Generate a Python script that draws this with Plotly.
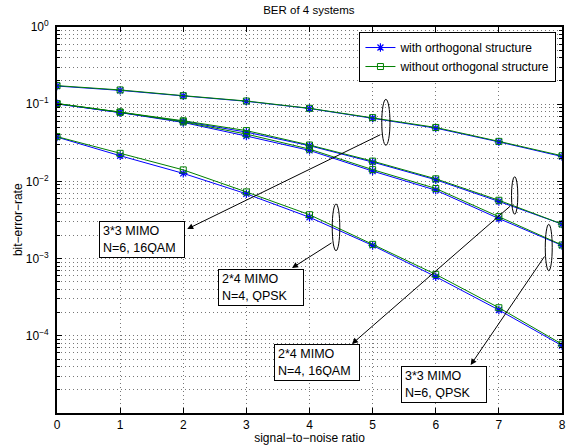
import plotly.graph_objects as go

snr = [0, 1, 2, 3, 4, 5, 6, 7, 8]

# 3*3 MIMO N=6, 16QAM
a_with = [0.172, 0.151, 0.128, 0.109, 0.088, 0.066, 0.049, 0.0325, 0.021]
a_without = [0.174, 0.153, 0.129, 0.110, 0.0885, 0.067, 0.050, 0.033, 0.0215]
# 2*4 MIMO N=4, 16QAM
b_with = [0.101, 0.078, 0.060, 0.0435, 0.0290, 0.0178, 0.0105, 0.0055, 0.0028]
b_without = [0.102, 0.079, 0.061, 0.0455, 0.0296, 0.0183, 0.0108, 0.0057, 0.0028]
# 3*3 MIMO N=6, QPSK
c_with = [0.101, 0.078, 0.058, 0.0387, 0.0252, 0.0136, 0.0077, 0.0033, 0.00148]
c_without = [0.102, 0.079, 0.059, 0.041, 0.0262, 0.0142, 0.0081, 0.0035, 0.0015]
# 2*4 MIMO N=4, QPSK
d_with = [0.0375, 0.0215, 0.0127, 0.0069, 0.00343, 0.00148, 0.000583, 0.000216, 7.45e-5]
d_without = [0.038, 0.0231, 0.0141, 0.0073, 0.0037, 0.00153, 0.000625, 0.000231, 7.8e-5]

x_ticks = [0, 1, 2, 3, 4, 5, 6, 7, 8]
y_tick_vals = [1e-5, 1e-4, 1e-3, 1e-2, 1e-1, 1]
y_tick_text = ["", "10<sup>\u22124</sup>", "10<sup>\u22123</sup>", "10<sup>\u22122</sup>",
               "10<sup>\u22121</sup>", "10<sup>0</sup>"]
y_minor_vals = [m * 10.0 ** k for k in range(-5, 0) for m in range(2, 10)]

series_with = [a_with, b_with, c_with, d_with]
series_without = [a_without, b_without, c_without, d_without]

BLUE = "#0000FF"
GREEN = "#008000"
FONT = "Liberation Sans, Arial, sans-serif"

fig = go.Figure()
for i, ys in enumerate(series_with):
    fig.add_trace(go.Scatter(
        x=snr, y=ys, mode="lines+markers", name="with orthogonal structure",
        showlegend=(i == 0), legendgroup="with",
        line=dict(color=BLUE, width=1),
        marker=dict(symbol="asterisk-open", size=7, color=BLUE, line=dict(color=BLUE, width=1.2)),
    ))
for i, ys in enumerate(series_without):
    fig.add_trace(go.Scatter(
        x=snr, y=ys, mode="lines+markers", name="without orthogonal structure",
        showlegend=(i == 0), legendgroup="without",
        line=dict(color=GREEN, width=1),
        marker=dict(symbol="square-open", size=6, color=GREEN, line=dict(color=GREEN, width=1)),
    ))

# ellipses (x center, half width, log y top, log y bottom)
ellipses = [
    (5.21, 0.065, -0.937, -1.532),
    (7.25, 0.05, -1.939, -2.426),
    (7.79, 0.055, -2.556, -3.157),
    (4.42, 0.06, -2.293, -2.898),
]
shapes = []
for cx, hw, yt, yb in ellipses:
    shapes.append(dict(type="circle", xref="x", yref="y",
                       x0=cx - hw, x1=cx + hw, y0=10 ** yb, y1=10 ** yt,
                       line=dict(color="black", width=1)))

annotations = []
# arrows: tail (ellipse) -> head (box)
arrows = [
    ((5.146, -1.386), (2.063, -2.617)),
    ((4.372, -2.785), (3.723, -3.122)),
    ((7.2, -2.306), (4.672, -4.106)),
    ((7.739, -2.953), (6.553, -4.378)),
]
for (tx, ty), (hx, hy) in arrows:
    annotations.append(dict(x=hx, y=hy, xref="x", yref="y", ax=tx, ay=ty,
                            axref="x", ayref="y", text="", showarrow=True,
                            arrowhead=2, arrowsize=1.2, arrowwidth=1, arrowcolor="black"))

boxes = [
    (1.352, -2.753, "3*3 MIMO<br>N=6, 16QAM"),
    (3.233, -3.368, "2*4 MIMO<br>N=4, QPSK"),
    (4.119, -4.352, "2*4 MIMO<br>N=4, 16QAM"),
    (6.134, -4.637, "3*3 MIMO<br>N=6, QPSK"),
]
for bx, by, txt in boxes:
    annotations.append(dict(x=bx, y=by, xref="x", yref="y", text=txt, showarrow=False,
                            align="left", xanchor="center", yanchor="middle",
                            width=78, height=29,
                            bordercolor="black", borderwidth=1, borderpad=3, bgcolor="white",
                            font=dict(family=FONT, size=12.5, color="black")))

# y-axis title
annotations.append(dict(text="bit\u2212error\u2212rate", xref="paper", yref="paper",
                        x=-0.077, y=0.5, xanchor="center", yanchor="middle",
                        textangle=-90, showarrow=False,
                        font=dict(family=FONT, size=12, color="black")))

axis_common = dict(
    showline=True, linecolor="black", linewidth=1.8, mirror="ticks",
    ticks="inside", ticklen=5, tickcolor="black", tickwidth=1,
    showgrid=True, gridcolor="#777777", gridwidth=1, griddash="1px,3px",
    zeroline=False, automargin=False,
    tickfont=dict(family=FONT, size=12, color="black"),
)

fig.update_layout(
    width=572, height=445,
    margin=dict(l=57, r=10, t=27, b=32, autoexpand=False),
    paper_bgcolor="white", plot_bgcolor="white",
    font=dict(family=FONT, size=12, color="black"),
    title=dict(text="BER of 4 systems", x=0.54, xanchor="center", y=0.978, yanchor="middle",
               yref="container", font=dict(family=FONT, size=11.5, color="black"),
               automargin=False),
    xaxis=dict(range=[0, 8], tickvals=x_ticks, ticklabelstandoff=0,
               title=dict(text="signal\u2212to\u2212noise ratio",
                          font=dict(family=FONT, size=12)),
               **axis_common),
    yaxis=dict(type="log", range=[-5, 0], tickvals=y_tick_vals, ticktext=y_tick_text,
               ticklabelstandoff=4,
               minor=dict(tickmode="array", tickvals=y_minor_vals, ticks="inside", ticklen=3,
                          tickcolor="black", showgrid=True, gridcolor="#777777",
                          griddash="1px,3px", gridwidth=1),
               **axis_common),
    legend=dict(x=0.989, xanchor="right", y=0.987, yanchor="top",
                bordercolor="black", borderwidth=1, bgcolor="white",
                font=dict(family=FONT, size=12, color="black"),
                tracegroupgap=0, itemwidth=30),
    shapes=shapes,
    annotations=annotations,
    showlegend=True,
)

fig.write_html("out.html")
